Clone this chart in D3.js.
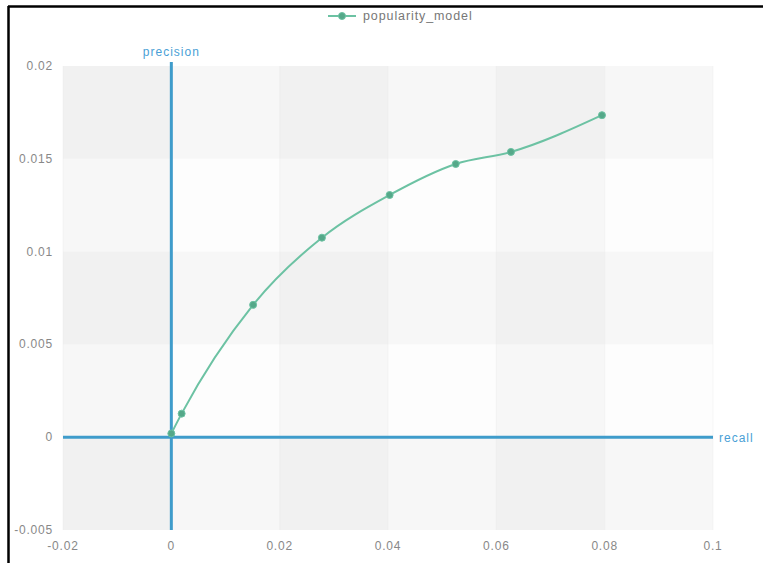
<!DOCTYPE html>
<html>
<head>
<meta charset="utf-8">
<script src="https://cdn.jsdelivr.net/npm/d3@7"></script>
<style>
  html, body { margin: 0; padding: 0; background: #fff; }
  svg { display: block; }
</style>
</head>
<body>
<svg id="chart" width="763" height="563"></svg>
<script>
const seriesName = "popularity_model";
const recallValues = [0, 0.0019, 0.0151, 0.0278, 0.0403, 0.0525, 0.0627, 0.0795];
const precisionValues = [0.0002, 0.00127, 0.00713, 0.01075, 0.01305, 0.01472, 0.01537, 0.01735];
const xTicks = [-0.02, 0, 0.02, 0.04, 0.06, 0.08, 0.1];
const yTicks = [-0.005, 0, 0.005, 0.01, 0.015, 0.02];
const xAxisName = "recall";
const yAxisName = "precision";

(function () {
const svg = d3.select("#chart");
const W = 763, H = 563;
const pLeft = 63, pRight = 713, pTop = 66, pBottom = 530;

const x = d3.scaleLinear().domain([-0.02, 0.1]).range([pLeft, pRight]);
const y = d3.scaleLinear().domain([-0.005, 0.02]).range([pBottom, pTop]);

// frame
svg.append("rect").attr("x", 0).attr("y", 0).attr("width", W).attr("height", H).attr("fill", "#fff");
svg.append("line").attr("x1", 8.5).attr("x2", 8.5).attr("y1", 6).attr("y2", H).attr("stroke", "#000").attr("stroke-width", 2.5);
svg.append("line").attr("x1", 8).attr("x2", W).attr("y1", 6.5).attr("y2", 6.5).attr("stroke", "#000").attr("stroke-width", 2.5);

// split areas (checkerboard from overlapping semi-transparent bands)
const g = svg.append("g");
for (let i = 0; i < xTicks.length - 1; i++) {
  g.append("rect")
    .attr("x", x(xTicks[i])).attr("y", pTop)
    .attr("width", x(xTicks[i + 1]) - x(xTicks[i])).attr("height", pBottom - pTop)
    .attr("fill", i % 2 === 0 ? "rgba(200,200,200,0.12)" : "rgba(250,250,250,0.12)");
}
for (let j = 0; j < yTicks.length - 1; j++) {
  g.append("rect")
    .attr("x", pLeft).attr("y", y(yTicks[j + 1]))
    .attr("width", pRight - pLeft).attr("height", y(yTicks[j]) - y(yTicks[j + 1]))
    .attr("fill", j % 2 === 0 ? "rgba(200,200,200,0.12)" : "rgba(250,250,250,0.12)");
}
xTicks.forEach(t => {
  g.append("line").attr("x1", x(t)).attr("x2", x(t)).attr("y1", pTop).attr("y2", pBottom)
    .attr("stroke", "rgba(225,225,225,0.3)").attr("stroke-width", 1);
});

// tick labels
const labelFont = "Liberation Sans, Arial, sans-serif";
svg.append("g").selectAll("text").data(yTicks).join("text")
  .attr("x", 53).attr("y", d => y(d) + 4)
  .attr("text-anchor", "end").attr("font-family", labelFont).attr("font-size", 12)
  .attr("letter-spacing", 0.8)
  .attr("fill", "#888").text(d => String(d));
svg.append("g").selectAll("text").data(xTicks).join("text")
  .attr("x", d => x(d)).attr("y", 550)
  .attr("text-anchor", "middle").attr("font-family", labelFont).attr("font-size", 12)
  .attr("letter-spacing", 0.8)
  .attr("fill", "#888").text(d => String(d));

// axis lines (at zero)
const axisColor = "#3f9ccb";
svg.append("line").attr("x1", x(0)).attr("x2", x(0)).attr("y1", 62).attr("y2", pBottom)
  .attr("stroke", axisColor).attr("stroke-width", 3);
svg.append("line").attr("x1", pLeft).attr("x2", pRight).attr("y1", y(0)).attr("y2", y(0))
  .attr("stroke", axisColor).attr("stroke-width", 3);

svg.append("text").attr("x", x(0)).attr("y", 56).attr("text-anchor", "middle")
  .attr("font-family", labelFont).attr("font-size", 12).attr("letter-spacing", 1)
  .attr("fill", "#4a9fd6").text(yAxisName);
svg.append("text").attr("x", 719).attr("y", y(0) + 5).attr("text-anchor", "start")
  .attr("font-family", labelFont).attr("font-size", 12).attr("letter-spacing", 1)
  .attr("fill", "#4a9fd6").text(xAxisName);

// series
const data = recallValues.map((r, i) => ({ r, p: precisionValues[i] }));
const lineColor = "#6cc2a3";
const line = d3.line().x(d => x(d.r)).y(d => y(d.p)).curve(d3.curveMonotoneX);
svg.append("path").datum(data).attr("d", line)
  .attr("fill", "none").attr("stroke", lineColor).attr("stroke-width", 2);
svg.append("g").selectAll("circle").data(data).join("circle")
  .attr("cx", d => x(d.r)).attr("cy", d => y(d.p)).attr("r", 3.5)
  .attr("fill", "#55a889").attr("stroke", lineColor).attr("stroke-width", 1);

// legend
const lg = svg.append("g");
lg.append("line").attr("x1", 328).attr("x2", 356).attr("y1", 16).attr("y2", 16)
  .attr("stroke", lineColor).attr("stroke-width", 2);
lg.append("circle").attr("cx", 342).attr("cy", 16).attr("r", 3.5)
  .attr("fill", "#55a889").attr("stroke", lineColor);
lg.append("text").attr("x", 363).attr("y", 20).attr("font-family", labelFont)
  .attr("font-size", 12.5).attr("letter-spacing", 0.9).attr("fill", "#777").text(seriesName);
})();
</script>
</body>
</html>
